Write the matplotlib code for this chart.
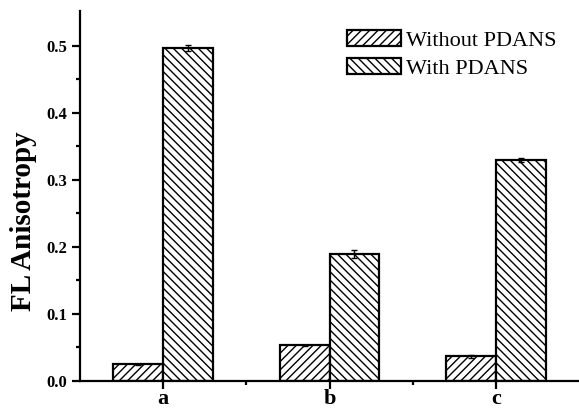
import matplotlib
matplotlib.use("Agg")
import matplotlib.pyplot as plt
import numpy as np

categories = ["a", "b", "c"]
without_vals = [0.025, 0.053, 0.037]
without_err = [0.001, 0.001, 0.002]
with_vals = [0.497, 0.190, 0.329]
with_err = [0.004, 0.006, 0.003]
series_labels = ["Without PDANS", "With PDANS"]
yticks = [0.0, 0.1, 0.2, 0.3, 0.4, 0.5]

plt.rcParams['font.family'] = ['Liberation Serif', 'DejaVu Serif']
plt.rcParams['hatch.linewidth'] = 1.0
plt.rcParams['hatch.color'] = 'black'

fig = plt.figure(figsize=(5.79, 4.12), dpi=100)
ax = fig.add_axes([80/579, 31/412, 499/579, 370/412])

x = np.arange(1, len(categories) + 1)
w = 0.3
ax.bar(x - w/2, without_vals, w, yerr=without_err, color='white', edgecolor='black',
       linewidth=1.6, hatch='////', label=series_labels[0],
       error_kw=dict(ecolor='black', elinewidth=1.0, capsize=2.5, capthick=1.0))
ax.bar(x + w/2, with_vals, w, yerr=with_err, color='white', edgecolor='black',
       linewidth=1.6, hatch='\\\\\\\\', label=series_labels[1],
       error_kw=dict(ecolor='black', elinewidth=1.0, capsize=2.5, capthick=1.0))

ax.set_xlim(0.5, 3.5)
ax.set_ylim(0, 0.552)
ax.set_xticks(x)
ax.set_xticklabels(categories, fontsize=16, fontweight='bold')
ax.set_xticks([1.5, 2.5], minor=True)
ax.set_yticks(yticks)
ax.set_yticklabels([f"{v:.1f}" for v in yticks], fontsize=12, fontweight='bold')
ax.set_yticks(np.arange(0.05, 0.55, 0.1), minor=True)

for s in ['top', 'right']:
    ax.spines[s].set_visible(False)
for s in ['left', 'bottom']:
    ax.spines[s].set_linewidth(1.6)

ax.tick_params(axis='both', which='major', direction='out', length=6, width=1.6)
ax.tick_params(axis='both', which='minor', direction='out', length=3, width=1.6)
ax.tick_params(axis='x', which='major', length=6, pad=0)
ax.tick_params(axis='y', which='major', pad=3)

ax.set_ylabel("FL Anisotropy", fontsize=21, fontweight='bold')
ax.yaxis.set_label_coords(-0.086, 0.433)

leg = ax.legend(loc='upper left', bbox_to_anchor=(347/579, 1 - 30/412),
                bbox_transform=fig.transFigure, frameon=False, fontsize=16,
                handlelength=2.45, handleheight=0.75, handletextpad=0.22,
                labelspacing=0.32, borderpad=0, borderaxespad=0)

fig.savefig("out.png", dpi=100)
